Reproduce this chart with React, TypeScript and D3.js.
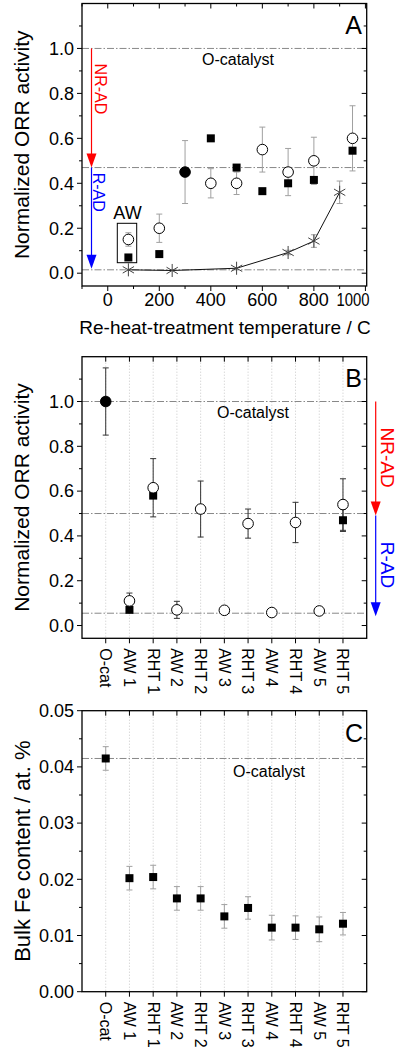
import React from 'react';
import * as d3 from 'd3';

// ---------- Panel A data ----------
const tempX = [80, 200, 300, 400, 500, 600, 700, 800, 950];
const circleA = [0.15, 0.2, 0.45, 0.4, 0.4, 0.55, 0.45, 0.5, 0.6];
const circleAErr = [0.03, 0.063, 0.14, 0.065, 0.05, 0.1, 0.105, 0.105, 0.145];
const squareA = [0.07, 0.085, 0.45, 0.6, 0.47, 0.365, 0.4, 0.415, 0.545];
const starX = [80, 250, 500, 700, 800, 900];
const starA = [0.015, 0.012, 0.022, 0.092, 0.143, 0.36];
const starAErr = [0, 0, 0, 0.01, 0.028, 0.05];
const refA = [1.0, 0.47, 0.015];
const xTicksA = [0, 200, 400, 600, 800, 1000];
const yTicksAct = [0, 0.2, 0.4, 0.6, 0.8, 1.0];

// ---------- Panel B data ----------
const categories = ['O-cat', 'AW 1', 'RHT 1', 'AW 2', 'RHT 2', 'AW 3', 'RHT 3', 'AW 4', 'RHT 4', 'AW 5', 'RHT 5'];
const circleB = [1.0, 0.11, 0.615, 0.07, 0.52, 0.068, 0.455, 0.058, 0.46, 0.065, 0.54];
const circleBErr = [0.15, 0.035, 0.13, 0.038, 0.125, 0.01, 0.065, 0.005, 0.09, 0.008, 0.115];
const squareB: (number | null)[] = [1.0, 0.07, 0.58, null, null, null, null, null, null, null, 0.47];
const squareBErr = [0, 0, 0, 0, 0, 0, 0, 0, 0, 0, 0.05];
const refB = [1.0, 0.5, 0.055];

// ---------- Panel C data ----------
const feC = [0.0415, 0.0202, 0.0204, 0.0166, 0.0166, 0.0134, 0.0149, 0.0114, 0.0114, 0.0111, 0.0121];
const feCErr = [0.0021, 0.0021, 0.0021, 0.0021, 0.0021, 0.0021, 0.002, 0.0022, 0.0021, 0.0022, 0.002];
const refC = [0.0415];
const yTicksC = [0, 0.01, 0.02, 0.03, 0.04, 0.05];

const FONT = "'Liberation Sans', Arial, Helvetica, sans-serif";
const L = 82, R = 366.7;
const REF_DASH = '7 2 1.5 2';

type Scale = (v: number) => number;

function Frame({ x, y, top, bottom, xMajor, xMinor, yMajor, yMinor }: {
  x: Scale; y: Scale; top: number; bottom: number;
  xMajor: number[]; xMinor: number[]; yMajor: number[]; yMinor: number[];
}) {
  const els: React.ReactNode[] = [];
  xMajor.forEach((v, i) => {
    const px = x(v);
    els.push(<line key={'xb' + i} x1={px} x2={px} y1={bottom} y2={bottom + 5} />);
    els.push(<line key={'xt' + i} x1={px} x2={px} y1={top} y2={top + 5} />);
  });
  xMinor.forEach((v, i) => {
    const px = x(v);
    els.push(<line key={'xbm' + i} x1={px} x2={px} y1={bottom} y2={bottom + 3} />);
    els.push(<line key={'xtm' + i} x1={px} x2={px} y1={top} y2={top + 3} />);
  });
  yMajor.forEach((v, i) => {
    const py = y(v);
    els.push(<line key={'yl' + i} x1={L - 5} x2={L} y1={py} y2={py} />);
    els.push(<line key={'yr' + i} x1={R - 5} x2={R} y1={py} y2={py} />);
  });
  yMinor.forEach((v, i) => {
    const py = y(v);
    els.push(<line key={'ylm' + i} x1={L - 3} x2={L} y1={py} y2={py} />);
    els.push(<line key={'yrm' + i} x1={R - 3} x2={R} y1={py} y2={py} />);
  });
  return (
    <g stroke="#000" strokeWidth={1}>
      {els}
      <rect x={L} y={top} width={R - L} height={bottom - top} fill="none" strokeWidth={1.3} />
    </g>
  );
}

function ErrBar({ cx, y1, y2, color, w = 1 }: { cx: number; y1: number; y2: number; color: string; w?: number }) {
  return (
    <g stroke={color} strokeWidth={w}>
      <line x1={cx} x2={cx} y1={y1} y2={y2} />
      <line x1={cx - 3} x2={cx + 3} y1={y1} y2={y1} />
      <line x1={cx - 3} x2={cx + 3} y1={y2} y2={y2} />
    </g>
  );
}

function Arrow({ x, y1, y2, color }: { x: number; y1: number; y2: number; color: string }) {
  return (
    <g>
      <line x1={x} x2={x} y1={y1} y2={y2 - 12} stroke={color} strokeWidth={1.2} />
      <path d={`M${x - 5},${y2 - 14}L${x + 5},${y2 - 14}L${x},${y2}Z`} fill={color} />
    </g>
  );
}

export default function App() {
  // ---- Panel A scales ----
  const topA = 3.5, botA = 286;
  const xA = d3.scaleLinear().domain([-100, 1005]).range([L, R]);
  const yAct = (top: number, bot: number) => d3.scaleLinear().domain([-0.057, 1.2]).range([bot, top]);
  const yA = yAct(topA, botA);

  // ---- Panel B scales ----
  const topB = 356.7, botB = 638.3;
  const xCat = d3.scaleLinear().domain([-1, categories.length]).range([L, R]);
  const yB = yAct(topB, botB);

  // ---- Panel C scales ----
  const topC = 710.7, botC = 991.7;
  const yC = d3.scaleLinear().domain([0, 0.05]).range([botC, topC]);

  const catIdx = categories.map((_, i) => i);
  const minorAct = d3.range(-0.0, 1.15, 0.1).map(v => +v.toFixed(2)).filter(v => !yTicksAct.some(t => Math.abs(t - v) < 1e-6));
  const minorA = d3.range(-100, 1001, 100).filter(v => !xTicksA.includes(v));
  const minorC = d3.range(0.005, 0.05, 0.01);

  const starPath = d3.symbol().type(d3.symbolAsterisk).size(120)() as string;
  const starLine = d3.line<number>().x((_, i) => xA(starX[i])).y(d => yA(d));

  const sq = 8, cr = 5.3;
  const lastA = xTicksA.length - 1;

  return (
    <svg width={400} height={1049} style={{ position: 'absolute', left: 0, top: 0, background: '#fff' }} fontFamily={FONT}>
      <rect x={0} y={0} width={400} height={1049} fill="#fff" />

      {/* ================= Panel A ================= */}
      {refA.map((v, i) => (
        <line key={'ra' + i} x1={L} x2={R} y1={yA(v)} y2={yA(v)} stroke="#888" strokeWidth={1} strokeDasharray={REF_DASH} />
      ))}
      <Frame x={xA} y={yA} top={topA} bottom={botA} xMajor={xTicksA} xMinor={minorA} yMajor={yTicksAct} yMinor={minorAct} />
      {yTicksAct.map((v, i) => (
        <text key={'ya' + i} x={L - 8} y={yA(v)} dy="0.35em" textAnchor="end" fontSize={18}>{v.toFixed(1)}</text>
      ))}
      {xTicksA.map((v, i) => (
        i === lastA ? (
          <text key={'xa' + i} x={xA(v) + 4} y={botA + 20} textAnchor="end" fontSize={18} textLength={33} lengthAdjust="spacingAndGlyphs">{v}</text>
        ) : (
          <text key={'xa' + i} x={xA(v)} y={botA + 20} textAnchor="middle" fontSize={18}>{v}</text>
        )
      ))}
      <text x={225} y={334} textAnchor="middle" fontSize={19}>Re-heat-treatment temperature / C</text>
      <text transform={`translate(22,${(topA + botA) / 2}) rotate(-90)`} textAnchor="middle" dy="0.35em" fontSize={21}>Normalized ORR activity</text>
      <text x={362} y={34} textAnchor="end" fontSize={25}>A</text>
      <text x={238} y={65} textAnchor="middle" fontSize={16}>O-catalyst</text>

      {/* arrows A */}
      <Arrow x={91.5} y1={yA(refA[0])} y2={yA(refA[1])} color="#f00" />
      <Arrow x={91.5} y1={yA(refA[1])} y2={yA(refA[2]) - 1} color="#00f" />
      <text transform={`translate(101,${yA(0.82)}) rotate(90)`} textAnchor="middle" dy="0.35em" fontSize={16} fill="#f00">NR-AD</text>
      <text transform={`translate(99,${yA(0.36)}) rotate(90)`} textAnchor="middle" dy="0.35em" fontSize={16} fill="#00f">R-AD</text>

      {/* AW box */}
      <rect x={117.3} y={223.3} width={19.4} height={39.4} fill="none" stroke="#000" strokeWidth={1} />
      <text x={127.5} y={219} textAnchor="middle" fontSize={18}>AW</text>

      {/* error bars A */}
      {tempX.map((t, i) => (
        <ErrBar key={'eaa' + i} cx={xA(t)} y1={yA(circleA[i] + circleAErr[i])} y2={yA(circleA[i] - circleAErr[i])} color="#a0a0a0" />
      ))}
      {starX.map((t, i) => starAErr[i] > 0 ? (
        <ErrBar key={'eas' + i} cx={xA(t)} y1={yA(starA[i] + starAErr[i])} y2={yA(starA[i] - starAErr[i])} color="#a0a0a0" />
      ) : null)}
      <path d={starLine(starA) || ''} fill="none" stroke="#111" strokeWidth={1} />
      {starX.map((t, i) => (
        <path key={'st' + i} d={starPath} transform={`translate(${xA(t)},${yA(starA[i])})`} fill="none" stroke="#444" strokeWidth={1} />
      ))}
      {tempX.map((t, i) => (
        <circle key={'ca' + i} cx={xA(t)} cy={yA(circleA[i])} r={cr} fill={Math.abs(circleA[i] - squareA[i]) < 0.01 ? '#000' : '#fff'} stroke="#000" strokeWidth={1} />
      ))}
      {tempX.map((t, i) => (
        <rect key={'sa' + i} x={xA(t) - sq / 2} y={yA(squareA[i]) - sq / 2} width={sq} height={sq} fill="#000" />
      ))}

      {/* ================= Panel B ================= */}
      {catIdx.map(i => (
        <line key={'gb' + i} x1={xCat(i)} x2={xCat(i)} y1={topB} y2={botB} stroke="#c8c8c8" strokeWidth={1} strokeDasharray="1 2" />
      ))}
      {refB.map((v, i) => (
        <line key={'rb' + i} x1={L} x2={R} y1={yB(v)} y2={yB(v)} stroke="#888" strokeWidth={1} strokeDasharray={REF_DASH} />
      ))}
      <Frame x={xCat} y={yB} top={topB} bottom={botB} xMajor={catIdx} xMinor={[]} yMajor={yTicksAct} yMinor={minorAct} />
      {yTicksAct.map((v, i) => (
        <text key={'yb' + i} x={L - 8} y={yB(v)} dy="0.35em" textAnchor="end" fontSize={18}>{v.toFixed(1)}</text>
      ))}
      {categories.map((c, i) => (
        <text key={'xb' + i} transform={`translate(${xCat(i)},${botB + 10}) rotate(90)`} dy="0.35em" fontSize={16}>{c}</text>
      ))}
      <text transform={`translate(22,${(topB + botB) / 2}) rotate(-90)`} textAnchor="middle" dy="0.35em" fontSize={21}>Normalized ORR activity</text>
      <text x={362} y={387} textAnchor="end" fontSize={25}>B</text>
      <text x={253} y={418} textAnchor="middle" fontSize={16}>O-catalyst</text>

      <Arrow x={375.7} y1={yB(refB[0])} y2={yB(refB[1]) + 2} color="#f00" />
      <Arrow x={375.7} y1={yB(refB[1]) + 2} y2={yB(refB[2]) + 3} color="#00f" />
      <text transform={`translate(388,${yB(0.75)}) rotate(90)`} textAnchor="middle" dy="0.35em" fontSize={19} fill="#f00">NR-AD</text>
      <text transform={`translate(388,${yB(0.27)}) rotate(90)`} textAnchor="middle" dy="0.35em" fontSize={19} fill="#00f">R-AD</text>

      {catIdx.map(i => (
        <ErrBar key={'ebc' + i} cx={xCat(i)} y1={yB(circleB[i] + circleBErr[i])} y2={yB(circleB[i] - circleBErr[i])} color="#333" />
      ))}
      {catIdx.map(i => squareB[i] != null && squareBErr[i] > 0 ? (
        <ErrBar key={'ebs' + i} cx={xCat(i)} y1={yB((squareB[i] as number) + squareBErr[i])} y2={yB((squareB[i] as number) - squareBErr[i])} color="#333" />
      ) : null)}
      {catIdx.map(i => squareB[i] != null ? (
        <rect key={'sb' + i} x={xCat(i) - sq / 2} y={yB(squareB[i] as number) - sq / 2} width={sq} height={sq} fill="#000" />
      ) : null)}
      {catIdx.map(i => (
        <circle key={'cb' + i} cx={xCat(i)} cy={yB(circleB[i])} r={cr}
          fill={squareB[i] != null && Math.abs(circleB[i] - (squareB[i] as number)) < 0.01 ? '#000' : '#fff'} stroke="#000" strokeWidth={1} />
      ))}

      {/* ================= Panel C ================= */}
      {catIdx.map(i => (
        <line key={'gc' + i} x1={xCat(i)} x2={xCat(i)} y1={topC} y2={botC} stroke="#c8c8c8" strokeWidth={1} strokeDasharray="1 2" />
      ))}
      {refC.map((v, i) => (
        <line key={'rc' + i} x1={L} x2={R} y1={yC(v)} y2={yC(v)} stroke="#888" strokeWidth={1} strokeDasharray={REF_DASH} />
      ))}
      <Frame x={xCat} y={yC} top={topC} bottom={botC} xMajor={catIdx} xMinor={[]} yMajor={yTicksC} yMinor={minorC} />
      {yTicksC.map((v, i) => (
        <text key={'yc' + i} x={L - 8} y={yC(v)} dy="0.35em" textAnchor="end" fontSize={18}>{v.toFixed(2)}</text>
      ))}
      {categories.map((c, i) => (
        <text key={'xc' + i} transform={`translate(${xCat(i)},${botC + 10}) rotate(90)`} dy="0.35em" fontSize={16}>{c}</text>
      ))}
      <text transform={`translate(22,${(topC + botC) / 2}) rotate(-90)`} textAnchor="middle" dy="0.35em" fontSize={22}>Bulk Fe content / at. %</text>
      <text x={363} y={742} textAnchor="end" fontSize={25}>C</text>
      <text x={269} y={777} textAnchor="middle" fontSize={16}>O-catalyst</text>

      {catIdx.map(i => (
        <ErrBar key={'ecc' + i} cx={xCat(i)} y1={yC(feC[i] + feCErr[i])} y2={yC(feC[i] - feCErr[i])} color="#a0a0a0" />
      ))}
      {catIdx.map(i => (
        <rect key={'sc' + i} x={xCat(i) - sq / 2} y={yC(feC[i]) - sq / 2} width={sq} height={sq} fill="#000" />
      ))}
    </svg>
  );
}
